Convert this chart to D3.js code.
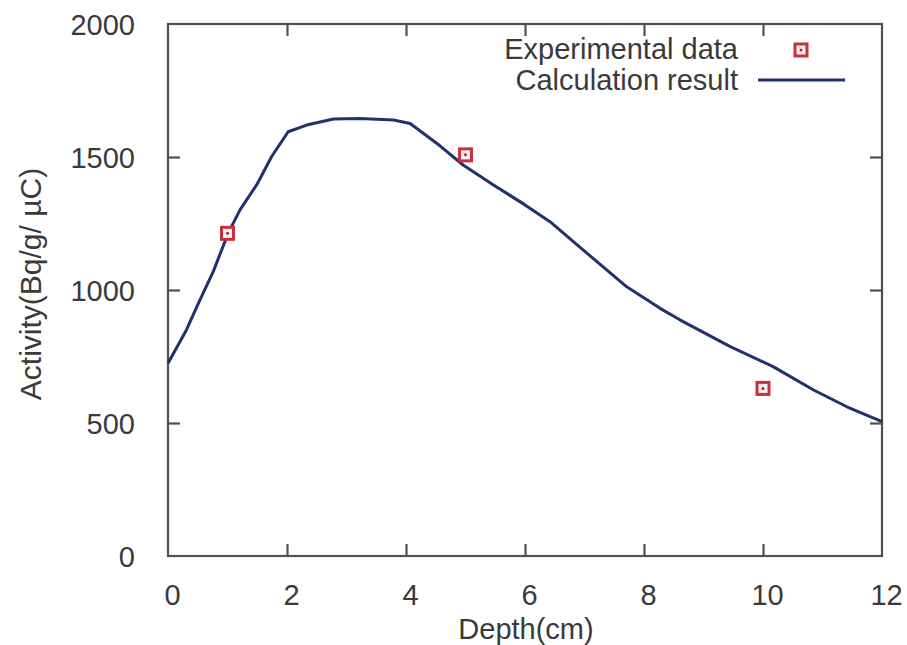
<!DOCTYPE html>
<html>
<head>
<meta charset="utf-8">
<script src="https://cdn.jsdelivr.net/npm/d3@7"></script>
<style>
  body { margin: 0; background: #fff; }
  text { font-family: "Liberation Sans", Arial, sans-serif; fill: #3a3a3a; }
</style>
</head>
<body>
<div id="chart"></div>
<script>
// calculation result (depth cm, activity)
var calcDepth = [0, 0.31, 0.51, 0.76, 1.01, 1.21, 1.49, 1.74, 2.02, 2.33, 2.78, 3.23, 3.79, 4.07,
                 4.52, 4.96, 5.47, 6.0, 6.42, 6.98, 7.71, 8.27, 8.61, 9.45, 10.17, 10.85, 11.41, 12];
var calcValue = [725, 850, 950, 1069, 1213, 1301, 1395, 1501, 1595, 1620, 1643, 1645, 1639, 1626,
                 1551, 1470, 1395, 1320, 1257, 1150, 1012, 931, 887, 787, 712, 624, 561, 505];

// experimental data
var expDepth = [1, 5, 10];
var expValue = [1213, 1508, 630];

var xTicks = [0, 2, 4, 6, 8, 10, 12];
var yTicks = [0, 500, 1000, 1500, 2000];

var width = 907, height = 645;
var mLeft = 168, mRight = 882, mTop = 24, mBottom = 556;

var svg = d3.select("#chart").append("svg")
    .attr("width", width)
    .attr("height", height);

var x = d3.scaleLinear().domain([0, 12]).range([mLeft, mRight]);
var y = d3.scaleLinear().domain([0, 2000]).range([mBottom, mTop]);

var axisColor = "#505050";
var fontSize = "29px";

// frame
svg.append("rect")
    .attr("x", mLeft).attr("y", mTop)
    .attr("width", mRight - mLeft).attr("height", mBottom - mTop)
    .attr("fill", "none").attr("stroke", axisColor).attr("stroke-width", 2.2);

// axes with inward ticks
var tickLen = 12;
var gx = svg.append("g").attr("transform", "translate(0," + mBottom + ")")
    .call(d3.axisBottom(x).tickValues(xTicks).tickFormat(d3.format("d"))
        .tickSizeInner(-tickLen).tickSizeOuter(0).tickPadding(tickLen + 16));
var gxTop = svg.append("g").attr("transform", "translate(0," + mTop + ")")
    .call(d3.axisTop(x).tickValues(xTicks).tickSizeInner(-tickLen).tickSizeOuter(0).tickFormat(""));
var gy = svg.append("g").attr("transform", "translate(" + mLeft + ",0)")
    .call(d3.axisLeft(y).tickValues(yTicks).tickFormat(d3.format("d"))
        .tickSizeInner(-tickLen).tickSizeOuter(0).tickPadding(tickLen + 21));
var gyRight = svg.append("g").attr("transform", "translate(" + mRight + ",0)")
    .call(d3.axisRight(y).tickValues(yTicks).tickSizeInner(-tickLen).tickSizeOuter(0).tickFormat(""));

[gx, gxTop, gy, gyRight].forEach(function(g) {
    g.select(".domain").remove();
    g.selectAll("line").attr("stroke", axisColor).attr("stroke-width", 2.2);
    g.selectAll("text").style("font-size", fontSize).style("font-family", "'Liberation Sans', Arial, sans-serif").attr("fill", "#3a3a3a");
});
// hide end ticks sitting on the frame
gx.selectAll(".tick line").filter(function(d) { return d === 0 || d === 12; }).remove();
gxTop.selectAll(".tick line").filter(function(d) { return d === 0 || d === 12; }).remove();
gy.selectAll(".tick line").filter(function(d) { return d === 0 || d === 2000; }).remove();
gyRight.selectAll(".tick line").filter(function(d) { return d === 0 || d === 2000; }).remove();
gy.selectAll("text").attr("dy", "0.35em");
gx.selectAll("text").attr("dx", "4px");

// axis titles
svg.append("text")
    .attr("x", 526).attr("y", 639)
    .attr("text-anchor", "middle").style("font-size", fontSize)
    .text("Depth(cm)");
svg.append("text")
    .attr("transform", "translate(41,284) rotate(-90)")
    .attr("text-anchor", "middle").style("font-size", "30px")
    .text("Activity(Bq/g/ µC)");

// calculation line
var calc = calcDepth.map(function(d, i) { return [d, calcValue[i]]; });
var line = d3.line().x(function(d) { return x(d[0]); }).y(function(d) { return y(d[1]); });
svg.append("path")
    .datum(calc)
    .attr("d", line)
    .attr("fill", "none")
    .attr("stroke", "#23306e")
    .attr("stroke-width", 3)
    .attr("stroke-linejoin", "round");

// experimental markers
var exp = expDepth.map(function(d, i) { return [d, expValue[i]]; });
function marker(g, cx, cy) {
    g.append("rect")
        .attr("x", cx - 6).attr("y", cy - 6)
        .attr("width", 12).attr("height", 12)
        .attr("fill", "#fbeff0").attr("stroke", "#c8303c").attr("stroke-width", 3);
    g.append("circle").attr("cx", cx).attr("cy", cy).attr("r", 1.5).attr("fill", "#9a2a30");
}
var mg = svg.append("g");
exp.forEach(function(d) { marker(mg, x(d[0]), y(d[1])); });

// legend
svg.append("text")
    .attr("x", 738).attr("y", 59)
    .attr("text-anchor", "end").style("font-size", fontSize)
    .text("Experimental data");
marker(svg.append("g"), 801, 50);
svg.append("text")
    .attr("x", 738).attr("y", 90)
    .attr("text-anchor", "end").style("font-size", fontSize)
    .text("Calculation result");
svg.append("line")
    .attr("x1", 758).attr("x2", 845).attr("y1", 80).attr("y2", 80)
    .attr("stroke", "#23306e").attr("stroke-width", 3);
</script>
</body>
</html>
